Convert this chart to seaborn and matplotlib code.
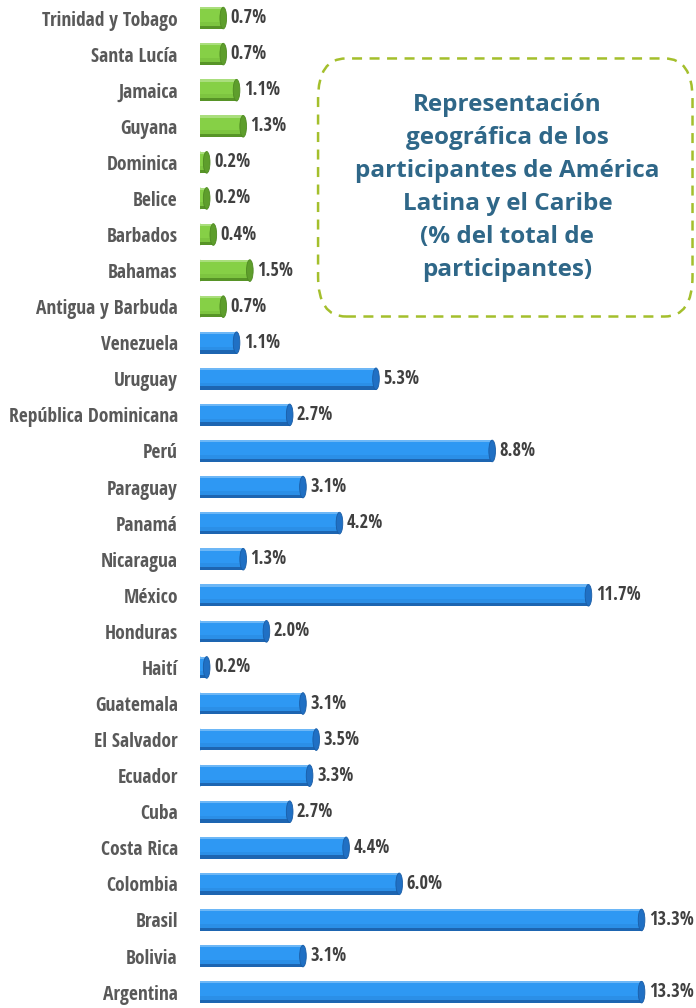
import matplotlib
matplotlib.use("Agg")
import matplotlib.pyplot as plt
from matplotlib import font_manager
from matplotlib.patches import FancyBboxPatch, Ellipse
import pandas as pd
import seaborn as sns

# datos (de arriba hacia abajo)
paises = ["Trinidad y Tobago", "Santa Lucía", "Jamaica", "Guyana", "Dominica",
          "Belice", "Barbados", "Bahamas", "Antigua y Barbuda", "Venezuela",
          "Uruguay", "República Dominicana", "Perú", "Paraguay", "Panamá",
          "Nicaragua", "México", "Honduras", "Haití", "Guatemala",
          "El Salvador", "Ecuador", "Cuba", "Costa Rica", "Colombia",
          "Brasil", "Bolivia", "Argentina"]
porcentajes = [0.7, 0.7, 1.1, 1.3, 0.2, 0.2, 0.4, 1.5, 0.7, 1.1,
               5.3, 2.7, 8.8, 3.1, 4.2, 1.3, 11.7, 2.0, 0.2, 3.1,
               3.5, 3.3, 2.7, 4.4, 6.0, 13.3, 3.1, 13.3]
grupos = ["Caribe"] * 9 + ["Latam"] * 19

titulo = ("Representación\ngeográfica de los\nparticipantes de América\n"
          "Latina y el Caribe\n(% del total de\nparticipantes)")

colores = {"Caribe": "#86D046", "Latam": "#2E98F3"}
sombras = {"Caribe": "#4F8A22", "Latam": "#1A5DA6"}
tapas = {"Caribe": "#5E9E2C", "Latam": "#2070C4"}

df = pd.DataFrame({"pais": paises, "pct": porcentajes, "grupo": grupos})

sns.set_style("white")
nombres = {f.name for f in font_manager.fontManager.ttflist}
fuente = "DejaVu Sans"
for cand in ["Liberation Sans Narrow", "Open Sans Condensed", "Roboto Condensed"]:
    if cand in nombres:
        fuente = cand
        break
plt.rcParams["font.family"] = [fuente, "DejaVu Sans"]

fig = plt.figure(figsize=(6.96, 10.08), dpi=100)
ax = fig.add_axes([0.2874, 0.0, 0.7126, 1.0])

sns.barplot(data=df, x="pct", y="pais", hue="grupo", palette=colores,
            dodge=False, legend=False, width=0.6, ax=ax, linewidth=0,
            saturation=1)

# efecto cilindro: borde inferior oscuro, brillo superior y tapa
for p in list(ax.patches):
    w, h = p.get_width(), p.get_height()
    if w <= 0:
        continue
    x0, y0 = p.get_x(), p.get_y()
    fc = p.get_facecolor()
    g = "Caribe" if fc[1] > fc[2] else "Latam"
    z = p.get_zorder()
    ax.add_patch(plt.Rectangle((x0, y0 + h * 0.85), w, h * 0.15,
                               color=sombras[g], alpha=0.85, lw=0, zorder=z + 0.1))
    ax.add_patch(plt.Rectangle((x0, y0 + h * 0.68), w, h * 0.17,
                               color=sombras[g], alpha=0.15, lw=0, zorder=z + 0.1))
    ax.add_patch(plt.Rectangle((x0, y0), w, h * 0.1,
                               color="white", alpha=0.3, lw=0, zorder=z + 0.1))
    ax.add_patch(Ellipse((x0 + w, y0 + h / 2), 0.2, h, facecolor=tapas[g],
                         edgecolor=sombras[g], lw=0.6, zorder=z + 0.2))
    ax.add_patch(Ellipse((x0, y0 + h / 2), 0.2, h, facecolor=fc,
                         edgecolor="none", zorder=z - 0.1))

etiquetas = []
for i, v in enumerate(porcentajes):
    etiquetas.append(ax.text(v + 0.22, i, f"{v:.1f}%", va="center", ha="left",
                             fontsize=10, fontweight="bold", color="#404040",
                             fontstretch="condensed"))

ax.set_xlim(0, 14.94)
ax.set_ylim(27.44, -0.5)
ax.set_xlabel("")
ax.set_ylabel("")
ax.set_xticks([])
ax.tick_params(axis="y", length=0, pad=16)
for t in ax.get_yticklabels():
    t.set_fontsize(10.5)
    t.set_fontweight("bold")
    t.set_color("#595959")
    t.set_fontstretch("condensed")
sns.despine(ax=ax, left=True, bottom=True, top=True, right=True)

# recuadro del título
caja = FancyBboxPatch((0.457, 0.686), 0.538, 0.256, transform=fig.transFigure,
                      boxstyle="round,pad=0,rounding_size=0.04",
                      facecolor="none", edgecolor="#A4BF2C", linewidth=1.8,
                      linestyle=(0, (4, 3)), zorder=5)
fig.patches.append(caja)
txt = fig.text(0.729, 0.814, titulo, ha="center", va="center", fontsize=15,
               fontweight="bold", color="#2F6788", linespacing=1.5,
               family=["Open Sans", "DejaVu Sans"])

# ajustar tamaños de letra al ancho medido en la referencia
r = fig.canvas.get_renderer()
ref = ax.get_yticklabels()[paises.index("República Dominicana")]
k = 170 / ref.get_window_extent(r).width
for t in ax.get_yticklabels():
    t.set_fontsize(10.5 * k)
k2 = 36 / etiquetas[0].get_window_extent(r).width
for t in etiquetas:
    t.set_fontsize(10 * k2)
prueba = fig.text(0, 0, "participantes de América", fontsize=15, fontweight="bold",
                  family=["Open Sans", "DejaVu Sans"])
k3 = 305 / prueba.get_window_extent(r).width
prueba.remove()
txt.set_fontsize(15 * k3)

fig.savefig("out.png", dpi=100)
